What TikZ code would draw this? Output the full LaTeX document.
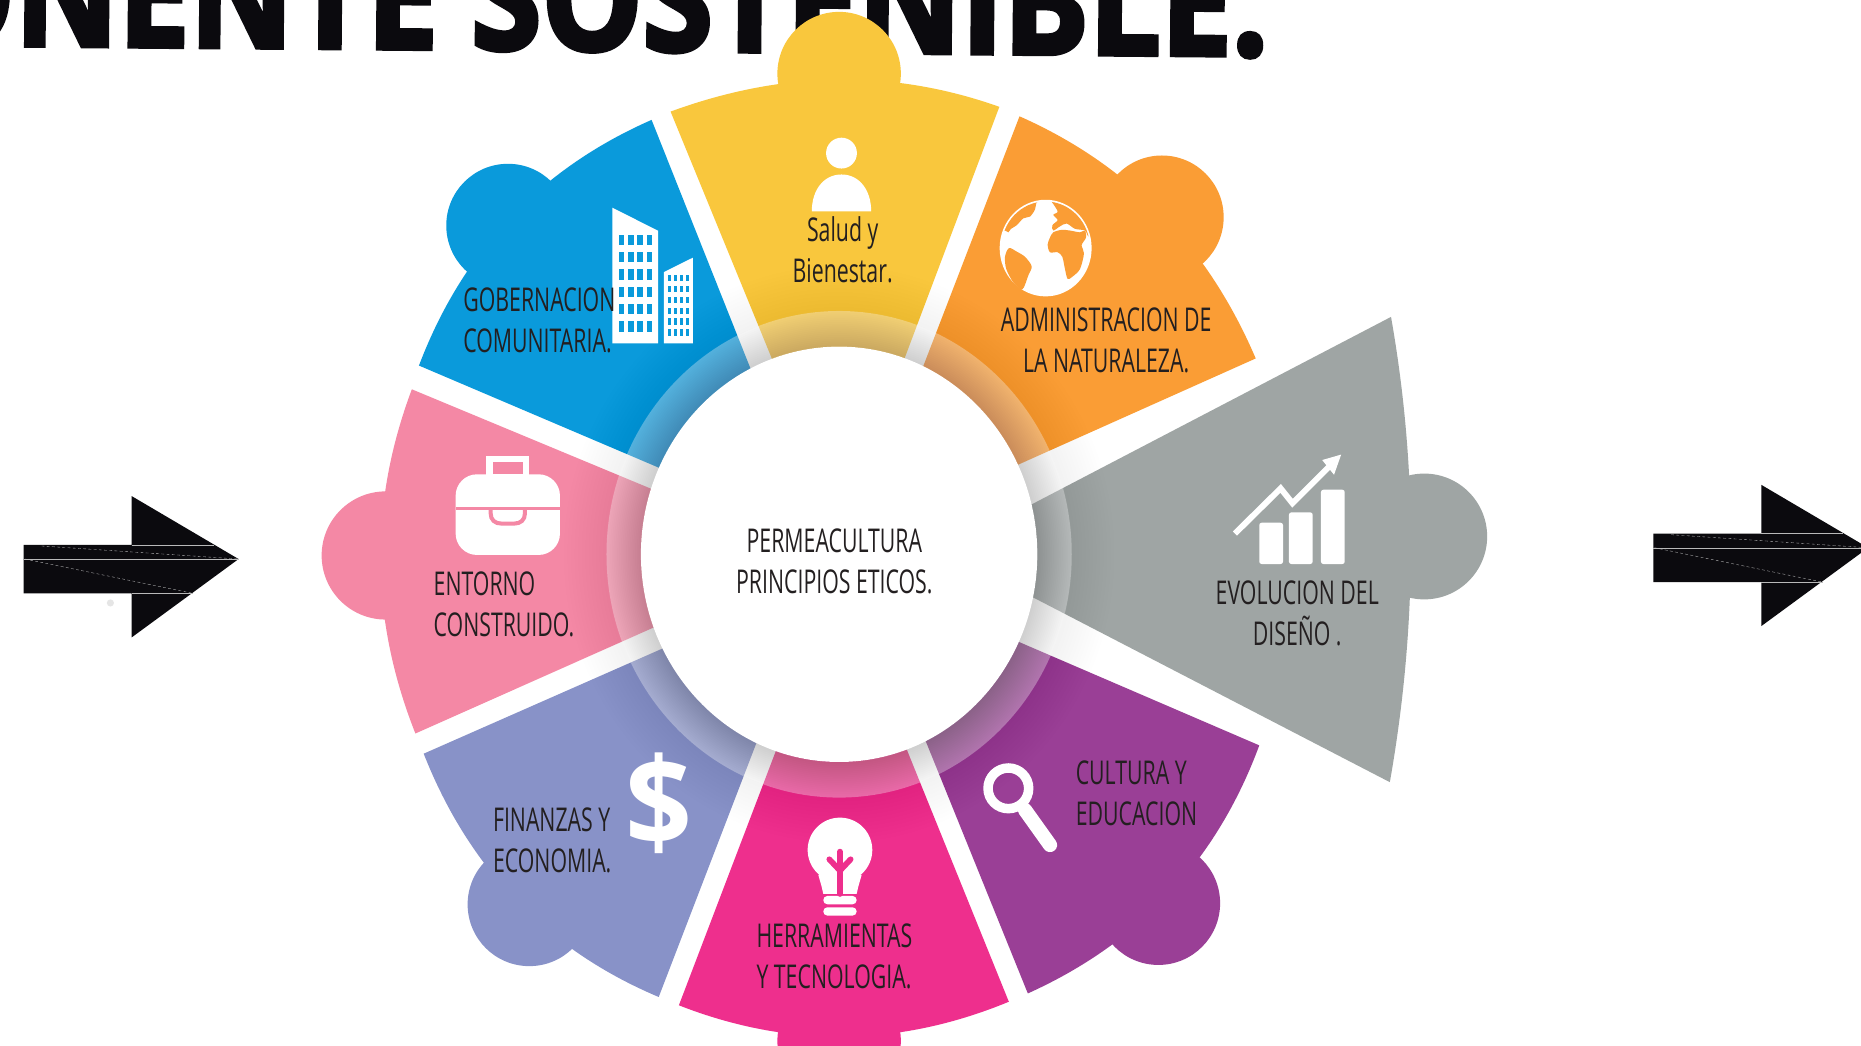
\documentclass[tikz,border=0pt]{standalone}
\usepackage{fontspec}
\setmainfont{Open Sans}
\newfontfamily\lblfont[FakeStretch=0.65]{Open Sans}
\newfontfamily\ttlfont[FakeStretch=0.865,FakeBold=3]{Open Sans Bold}
\newfontfamily\dolfont[FakeStretch=0.95]{Open Sans}
\definecolor{cyel}{HTML}{F9C73D}
\definecolor{cora}{HTML}{FA9D35}
\definecolor{cgry}{HTML}{9FA5A4}
\definecolor{cblu}{HTML}{0A9ADB}
\definecolor{cpnk}{HTML}{F488A5}
\definecolor{cper}{HTML}{8892C8}
\definecolor{cmag}{HTML}{EE2F8D}
\definecolor{cpur}{HTML}{9A3F96}
\definecolor{ctxt}{HTML}{231F20}
\definecolor{cblk}{HTML}{0B0A0E}
\tikzset{
  lbl/.style={font=\lblfont\fontsize{13.8}{17.25}\selectfont,text=ctxt,inner sep=0pt},
  lbll/.style={lbl,align=left,anchor=west},
  lblc/.style={lbl,align=center},
  fineline/.style={draw=gray!55,line width=0.15pt},
  finedash/.style={fineline,dash pattern=on 1.2pt off 1pt},
}
\newcommand{\blackarrow}{%
  \fill[cblk] (20,459) -- (111,459) -- (111,418) -- (201,471) -- (111,537) -- (111,500) -- (20,500) -- cycle;
  \draw[fineline] (20,471) -- (201,471);
  \draw[fineline] (111,459) -- (180,459);
  \draw[fineline] (111,500) -- (163,500);
  \draw[finedash] (35,460) -- (201,471);
  \draw[finedash] (21,471) -- (163,500);
}
\begin{document}
\begin{tikzpicture}[x=0.5pt,y=-0.5pt]
\useasboundingbox (0,0) rectangle (1568,880.5);
\clip (0,0) rectangle (1568,880.5);
\fill[white] (0,0) rectangle (1568,880.5);
% title
\node[rotate=-0.47,anchor=base east,inner sep=0pt,text=cblk,font=\ttlfont\fontsize{62}{62}\selectfont] (title) at (1069,47) {ONENTE SOSTENIBLE.};
% arrows
\blackarrow
\begin{scope}[shift={(1373,-9.5)}]\blackarrow\end{scope}
\fill[black!10] (93,508) circle[radius=3];
% wedges
\fill[cyel] (565,94) .. controls (659.7,59.3) and (752,58) .. (842,90) -- (744,350) -- (670,350) -- cycle;
\fill[cyel] (707,62) circle[radius=52];
\fill[cora] (859,98) .. controls (951,138.7) and (1017.3,206.7) .. (1058,302) -- (812,412) -- (760,355) -- cycle;
\fill[cora] (979,183) circle[radius=52];
\fill[cgry] (1172,267) .. controls (1195,397) and (1194,529) .. (1171,659) -- (835,485) -- (850,435) -- cycle;
\fill[cgry] (1200,452) circle[radius=53];
\fill[cpur] (866,837) .. controls (960.2,794.5) and (1025.2,724.9) .. (1061,628) -- (810,520) -- (762,580) -- cycle;
\fill[cpur] (976,761) circle[radius=52];
\fill[cmag] (572,847) .. controls (664.7,883.3) and (757.3,882.3) .. (850,844) -- (748,592) -- (670,590) -- cycle;
\fill[cmag] (707,877) circle[radius=52];
\fill[cper] (357,635) .. controls (395.2,732.1) and (461.2,800.5) .. (555,840) -- (655,580) -- (600,528) -- cycle;
\fill[cper] (446,762) circle[radius=52];
\fill[cpnk] (347,328) .. controls (310.7,424.7) and (311.7,521.3) .. (350,618) -- (595,509) -- (590,429) -- cycle;
\fill[cpnk] (325,468) circle[radius=54];
\fill[cblu] (549,101) .. controls (455,142.3) and (389.7,211.3) .. (353,308) -- (602,414) -- (650,355) -- cycle;
\fill[cblu] (428,190) circle[radius=52];
% soft shadow around the ring
\foreach \r in {196,199,...,232} {\fill[black,opacity=0.002] (707,467) circle[x radius=\r,y radius={\r*1.047}];}
% ring
\fill[white,opacity=0.33,even odd rule] (707,467) circle[x radius=196,y radius=205] (707,467) circle[x radius=167,y radius=175];
\foreach \r in {196,194.5,...,167} {\fill[black,opacity=0.0095] (707,467) circle[x radius=\r,y radius={\r*1.047}];}
% person
\fill[white] (709,129) circle[radius=13];
\fill[white] (684,178) .. controls (684,160) and (694,147) .. (709,147) .. controls (724,147) and (734,160) .. (734,178) -- cycle;
% buildings
\fill[white] (516,175) -- (554.4,194.4) -- (554.4,289.3) -- (516,289.3) -- cycle;
\fill[white] (559.4,229.2) -- (583.8,217.1) -- (583.8,289.3) -- (559.4,289.3) -- cycle;
\foreach \i in {0,1,2,3} \foreach \j in {0,...,5} {
  \fill[cblu] ({521.2+7.86*\i},{197.7+14.6*\j}) rectangle +(4.8,8.7);
  \fill[cblu] ({562.8+5.05*\i},{231.7+9.15*\j}) rectangle +(2.8,5.3);
}
% globe
\begin{scope}[shift={(829.9,155.9)},xscale=0.2808,yscale=0.295]
\fill[white] (182,180) circle[radius=138];
\begin{scope}
\clip (182,180) circle[radius=133];
\fill[cora] plot[smooth cycle] coordinates {(30,135) (60,130) (70,135) (78,125) (95,115) (115,95) (135,90) (150,70) (155,50) (170,45) (185,30) (150,10) (60,50)};
\fill[cora] plot[smooth cycle] coordinates {(190,25) (195,40) (218,75) (205,85) (218,100) (202,115) (205,130) (225,118) (245,110) (270,125) (300,130) (312,148) (345,145) (340,30)};
\end{scope}
\fill[cora] plot[smooth cycle] coordinates {(188,170) (195,150) (205,135) (230,128) (255,130) (285,135) (300,130) (303,150) (290,172) (297,195) (285,240) (262,262) (248,268) (240,240) (232,205) (218,192) (195,192)};
\fill[cora] plot[smooth cycle] coordinates {(72,180) (95,190) (120,205) (140,232) (130,258) (112,298) (85,278) (64,240) (60,205)};
\end{scope}
% briefcase
\begin{scope}[shift={(370.7,374.9)},scale=0.2808]
\fill[white,rounded corners=9pt] (47,88) rectangle (360,330);
\fill[white] (138,32) rectangle (268,95);
\fill[cpnk] (158,52) rectangle (248,88);
\fill[cpnk] (47,185) rectangle (360,195);
\draw[cpnk,line width=1.7pt] (152,190) -- (152,205) .. controls (152,225) and (165,236) .. (185,236) -- (222,236) .. controls (242,236) and (255,225) .. (255,205) -- (255,190);
\end{scope}
% bulb
\begin{scope}[shift={(665.6,674.0)},scale=0.2808]
\fill[white] (150,150) circle[radius=97];
\fill[white] (85,225) -- (95,260) -- (100,282) -- (200,282) -- (205,260) -- (215,225) -- cycle;
\fill[white,rounded corners=1.7pt] (100,288) rectangle (200,313);
\fill[white,rounded corners=1.7pt] (100,322) rectangle (200,347);
\draw[cmag,line width=2.4pt,line cap=round] (150,282) -- (150,155);
\draw[cmag,line width=2.4pt,line cap=round,line join=round] (118,178) -- (150,212) -- (182,178);
\end{scope}
% magnifier
\begin{scope}[shift={(817.3,631.9)},scale=0.2808]
\draw[white,line width=4pt] (115,115) circle[radius=61];
\draw[white,line width=6pt,line cap=round] (165,180) -- (240,285);
\end{scope}
% chart
\fill[white,rounded corners=1pt] (1061,440.4) rectangle (1081,475.2);
\fill[white,rounded corners=1pt] (1086,431.7) rectangle (1106,475.2);
\fill[white,rounded corners=1pt] (1113,412.6) rectangle (1133,475.2);
\draw[white,line width=2.5pt,line join=miter] (1040.5,449.5) -- (1079,411.5) -- (1089,424) -- (1123,390);
\fill[white] (1130,383) -- (1114,387.6) -- (1124,400) -- cycle;
% dollar
\node[inner sep=0pt,text=white,font=\dolfont\bfseries\fontsize{52}{52}\selectfont] (dollar) at (555,677) {\$};
% centre
\fill[white] (707,467) circle[x radius=167,y radius=175];
\node[lblc] (ctext) at (703,473) {PERMEACULTURA\\PRINCIPIOS ETICOS.};
% labels
\node[lblc] (salud) at (710,210.5) {Salud y\\Bienestar.};
\node[lbll] (gober) at (390,270) {GOBERNACION\\COMUNITARIA.};
\node[lblc] (admin) at (932,287) {ADMINISTRACION DE\\LA NATURALEZA.};
\node[lblc] (evol) at (1093,517) {EVOLUCION DEL\\DISEÑO .};
\node[lbll] (cult) at (906,668) {CULTURA Y\\EDUCACION};
\node[lbll] (herr) at (637,806) {HERRAMIENTAS\\Y TECNOLOGIA.};
\node[lbll] (fin) at (415,708) {FINANZAS Y\\ECONOMIA.};
\node[lbll] (ent) at (365,509.5) {ENTORNO\\CONSTRUIDO.};
\end{tikzpicture}
\end{document}
